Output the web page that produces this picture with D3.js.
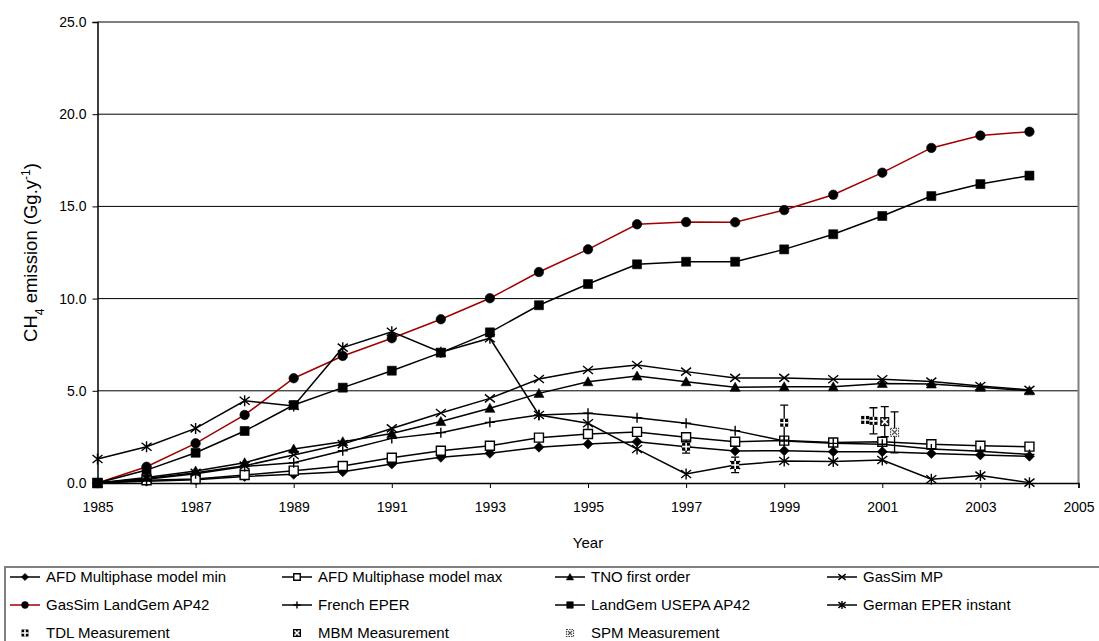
<!DOCTYPE html>
<html>
<head>
<meta charset="utf-8">
<script src="https://cdn.jsdelivr.net/npm/d3@7"></script>
<style>
  html, body { margin: 0; padding: 0; background: #fff; }
  svg { display: block; font-family: "Liberation Sans", Arial, sans-serif; }
</style>
</head>
<body>
<svg id="chart" width="1099" height="641"></svg>
<script>
// Landfill CH4 emission estimates by model, 1985-2004 (Gg per year)
const years = d3.range(1985, 2005);

const afdMin      = [0, 0.10, 0.18, 0.35, 0.47, 0.61, 1.03, 1.39, 1.61, 1.94, 2.11, 2.24, 1.97, 1.74, 1.75, 1.70, 1.70, 1.60, 1.52, 1.45];
const afdMax      = [0, 0.15, 0.22, 0.43, 0.67, 0.92, 1.37, 1.75, 2.02, 2.46, 2.66, 2.77, 2.48, 2.24, 2.30, 2.20, 2.24, 2.10, 2.02, 1.97];
const tnoFirst    = [0, 0.30, 0.65, 1.10, 1.84, 2.24, 2.69, 3.33, 4.05, 4.86, 5.49, 5.80, 5.49, 5.19, 5.22, 5.22, 5.40, 5.37, 5.19, 5.00];
const gasSimMP    = [0, 0.25, 0.55, 0.94, 1.52, 2.11, 2.96, 3.80, 4.59, 5.64, 6.13, 6.40, 6.04, 5.70, 5.70, 5.63, 5.63, 5.50, 5.26, 5.05];
const gasSimLG    = [0, 0.88, 2.15, 3.69, 5.68, 6.89, 7.85, 8.88, 10.02, 11.44, 12.67, 14.03, 14.15, 14.14, 14.80, 15.63, 16.83, 18.17, 18.84, 19.05];
const frenchEPER  = [0, 0.20, 0.50, 0.90, 1.10, 1.75, 2.42, 2.73, 3.29, 3.69, 3.78, 3.54, 3.24, 2.84, 2.28, 2.15, 2.10, 1.85, 1.72, 1.55];
const landGemEPA  = [0, 0.70, 1.64, 2.82, 4.23, 5.17, 6.09, 7.07, 8.17, 9.64, 10.79, 11.86, 12.00, 12.00, 12.67, 13.49, 14.48, 15.56, 16.21, 16.67];
const germanEPER  = [1.30, 1.97, 2.96, 4.46, 4.18, 7.34, 8.20, 7.09, 7.85, 3.69, 3.24, 1.84, 0.49, 0.98, 1.19, 1.16, 1.25, 0.20, 0.40, 0.02];

// Field measurements (year, value, error)
const tdlYears  = [1997, 1998, 1999, 2000.65, 2000.82];
const tdlValues = [1.97, 0.98, 3.27, 3.42, 3.37];
const tdlErrors = [0.35, 0.42, 0.95, 0, 0.71];
const mbmYears  = [2001.05];
const mbmValues = [3.33];
const mbmErrors = [0.81];
const spmYears  = [2001.25];
const spmValues = [2.75];
const spmErrors = [1.11];

const yTicks = [0, 5, 10, 15, 20, 25];
const xTicks = [1985, 1987, 1989, 1991, 1993, 1995, 1997, 1999, 2001, 2003, 2005];

const seriesNames = ["AFD Multiphase model min", "AFD Multiphase model max", "TNO first order", "GasSim MP",
                     "GasSim LandGem AP42", "French EPER", "LandGem USEPA AP42", "German EPER instant"];
const seriesData = [afdMin, afdMax, tnoFirst, gasSimMP, gasSimLG, frenchEPER, landGemEPA, germanEPER];
const seriesMarkers = ["diamond", "openSquare", "triangle", "cross", "circle", "plus", "square", "asterisk"];
const seriesColors = ["#000", "#000", "#000", "#000", "#a00000", "#000", "#000", "#000"];

const svg = d3.select("#chart");
const plotLeft = 97.5, plotRight = 1078.5, plotTop = 22, plotBottom = 483;

const x = d3.scaleLinear().domain([1985, 2005]).range([plotLeft, plotRight]);
const y = d3.scaleLinear().domain([0, 25]).range([plotBottom, plotTop]);

// marker shapes, scaled by s
function markerPath(type, s) {
  const p = d3.path();
  switch (type) {
    case "diamond":
      p.moveTo(0, -s); p.lineTo(s, 0); p.lineTo(0, s); p.lineTo(-s, 0); p.closePath(); break;
    case "square":
    case "openSquare":
      p.rect(-s * 0.9, -s * 0.9, s * 1.8, s * 1.8); break;
    case "triangle":
      p.moveTo(0, -s); p.lineTo(s, s * 0.8); p.lineTo(-s, s * 0.8); p.closePath(); break;
    case "circle":
      p.arc(0, 0, s * 0.95, 0, 2 * Math.PI); break;
    case "cross":
      p.moveTo(-s, -s * 0.8); p.lineTo(s, s * 0.8); p.moveTo(-s, s * 0.8); p.lineTo(s, -s * 0.8); break;
    case "plus":
      p.moveTo(-s, 0); p.lineTo(s, 0); p.moveTo(0, -s); p.lineTo(0, s); break;
    case "asterisk":
      p.moveTo(-s, -s * 0.8); p.lineTo(s, s * 0.8); p.moveTo(-s, s * 0.8); p.lineTo(s, -s * 0.8);
      p.moveTo(0, -s * 1.1); p.lineTo(0, s * 1.1); break;
  }
  return p.toString();
}

function drawMarker(g, type, cx, cy, s) {
  const filled = ["diamond", "square", "triangle", "circle"].includes(type);
  const m = g.append("path")
    .attr("d", markerPath(type, s))
    .attr("transform", `translate(${cx},${cy})`);
  if (filled) {
    m.attr("fill", "#000").attr("stroke", "#000").attr("stroke-width", 0.6);
  } else if (type === "openSquare") {
    m.attr("fill", "#fff").attr("stroke", "#000").attr("stroke-width", 1.4);
  } else {
    m.attr("fill", "none").attr("stroke", "#000").attr("stroke-width", 1.4);
  }
}

// measurement markers
function drawMeasure(g, kind, cx, cy, s) {
  const t = g.append("g").attr("transform", `translate(${cx},${cy})`);
  if (kind === "TDL") {
    t.append("rect").attr("x", -s).attr("y", -s).attr("width", 2 * s).attr("height", 2 * s).attr("fill", "#000");
    t.append("path").attr("d", `M${-s},0H${s}M0,${-s}V${s}`).attr("stroke", "#fff").attr("stroke-width", 1.6);
  } else if (kind === "MBM") {
    t.append("rect").attr("x", -s).attr("y", -s).attr("width", 2 * s).attr("height", 2 * s)
      .attr("fill", "#222").attr("stroke", "#000").attr("stroke-width", 1);
    t.append("path").attr("d", `M${-s + 1},${-s + 1}L${s - 1},${s - 1}M${-s + 1},${s - 1}L${s - 1},${-s + 1}`)
      .attr("stroke", "#fff").attr("stroke-width", 1.6);
  } else {
    t.append("rect").attr("x", -s).attr("y", -s).attr("width", 2 * s).attr("height", 2 * s)
      .attr("fill", "#fff").attr("stroke", "#444").attr("stroke-width", 1.2).attr("stroke-dasharray", "1.5,1");
    t.append("path").attr("d", `M${-s + 1.5},${-s + 1.5}L${s - 1.5},${s - 1.5}M${-s + 1.5},${s - 1.5}L${s - 1.5},${-s + 1.5}`)
      .attr("stroke", "#555").attr("stroke-width", 1.2);
  }
}

// gridlines
svg.append("g")
  .selectAll("line")
  .data(yTicks.filter(d => d > 0))
  .join("line")
  .attr("x1", plotLeft).attr("x2", plotRight)
  .attr("y1", d => y(d)).attr("y2", d => y(d))
  .attr("stroke", d => d === 25 ? "#808080" : "#000")
  .attr("stroke-width", d => d === 25 ? 2 : 1);

// plot area right border
svg.append("line")
  .attr("x1", plotRight).attr("x2", plotRight).attr("y1", plotTop).attr("y2", plotBottom)
  .attr("stroke", "#808080").attr("stroke-width", 2);

// axes
const yAxis = svg.append("g")
  .attr("transform", `translate(${plotLeft},0)`)
  .call(d3.axisLeft(y).tickValues(yTicks).tickFormat(d3.format(".1f")).tickSize(5).tickPadding(6));
const xAxis = svg.append("g")
  .attr("transform", `translate(0,${plotBottom})`)
  .call(d3.axisBottom(x).tickValues(xTicks).tickFormat(d3.format("d")).tickSize(5).tickPadding(14));
[yAxis, xAxis].forEach(a => {
  a.selectAll("path.domain").attr("stroke", "#000").attr("stroke-width", 1.5);
  a.selectAll(".tick line").attr("stroke", "#000").attr("stroke-width", 1);
  a.selectAll(".tick text").attr("fill", "#000").style("font-size", "14px")
    .style("font-family", "'Liberation Sans', Arial, sans-serif");
});

// axis titles
svg.append("text")
  .attr("x", (plotLeft + plotRight) / 2).attr("y", 548)
  .attr("text-anchor", "middle")
  .style("font-size", "15px")
  .text("Year");

const yTitle = svg.append("text")
  .attr("transform", `translate(37,${(plotTop + plotBottom) / 2}) rotate(-90)`)
  .attr("text-anchor", "middle")
  .style("font-size", "18.5px");
yTitle.append("tspan").text("CH");
yTitle.append("tspan").attr("baseline-shift", "sub").style("font-size", "12px").text("4");
yTitle.append("tspan").text(" emission (Gg.y");
yTitle.append("tspan").attr("baseline-shift", "super").style("font-size", "12px").text("-1");
yTitle.append("tspan").text(")");

// series lines and markers
const line = d3.line().x((d, i) => x(years[i])).y(d => y(d));
const plot = svg.append("g");
seriesData.forEach((vals, k) => {
  plot.append("path")
    .datum(vals)
    .attr("d", line)
    .attr("fill", "none")
    .attr("stroke", seriesColors[k])
    .attr("stroke-width", 1.5);
});
seriesData.forEach((vals, k) => {
  const g = plot.append("g");
  vals.forEach((v, i) => drawMarker(g, seriesMarkers[k], x(years[i]), y(v), 5));
});

// measurements with error bars
function drawMeasurements(ys, vs, es, kind) {
  const g = plot.append("g");
  ys.forEach((yr, i) => {
    const cx = x(yr), e = es[i];
    if (e > 0) {
      g.append("path")
        .attr("d", `M${cx},${y(vs[i] - e)}V${y(vs[i] + e)}M${cx - 4},${y(vs[i] + e)}H${cx + 4}M${cx - 4},${y(vs[i] - e)}H${cx + 4}`)
        .attr("stroke", "#000").attr("stroke-width", 1.3).attr("fill", "none");
    }
    drawMeasure(g, kind, cx, y(vs[i]), 4);
  });
}
drawMeasurements(tdlYears, tdlValues, tdlErrors, "TDL");
drawMeasurements(mbmYears, mbmValues, mbmErrors, "MBM");
drawMeasurements(spmYears, spmValues, spmErrors, "SPM");

// legend
const legend = svg.append("g");
legend.append("path")
  .attr("d", "M5,650V567H1105")
  .attr("fill", "none").attr("stroke", "#808080").attr("stroke-width", 2);
const colX = [10, 282, 555, 827];
const rowY = [577, 605, 633];
seriesNames.forEach((name, k) => {
  const cx = colX[k % 4], cy = rowY[Math.floor(k / 4)];
  legend.append("line")
    .attr("x1", cx).attr("x2", cx + 30).attr("y1", cy).attr("y2", cy)
    .attr("stroke", seriesColors[k]).attr("stroke-width", 1.5);
  drawMarker(legend, seriesMarkers[k], cx + 15, cy, 3.6);
  legend.append("text")
    .attr("x", cx + 36).attr("y", cy).attr("dy", "0.35em")
    .style("font-size", "15px")
    .text(name);
});
const measureNames = ["TDL Measurement", "MBM Measurement", "SPM Measurement"];
const measureKinds = ["TDL", "MBM", "SPM"];
measureNames.forEach((name, k) => {
  const cx = colX[k], cy = rowY[2];
  drawMeasure(legend, measureKinds[k], cx + 15, cy, 3.5);
  legend.append("text")
    .attr("x", cx + 36).attr("y", cy).attr("dy", "0.35em")
    .style("font-size", "15px")
    .text(name);
});
</script>
</body>
</html>
